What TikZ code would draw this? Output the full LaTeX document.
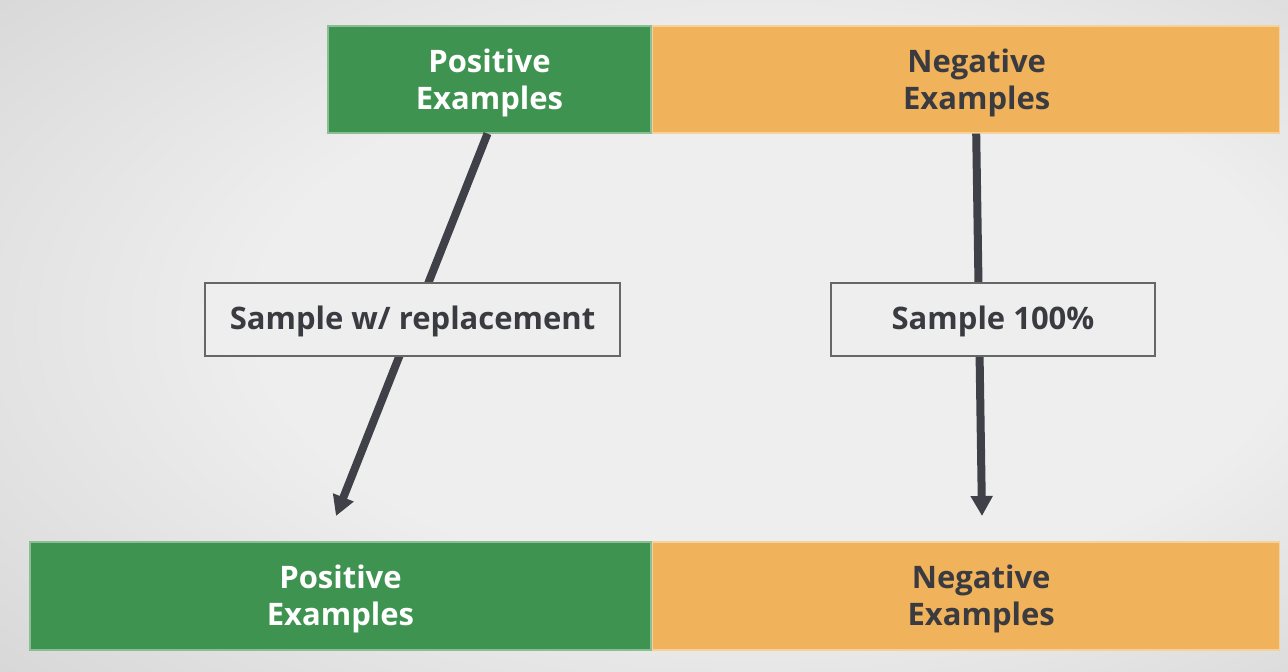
\documentclass[tikz,border=0pt]{standalone}
\usepackage{fontspec}
\setmainfont{Open Sans}
\usetikzlibrary{arrows.meta,positioning}

\definecolor{posgreen}{HTML}{3F9350}
\definecolor{negorange}{HTML}{F0B25A}
\definecolor{arrowgray}{HTML}{404148}
\definecolor{labelgray}{HTML}{3A3B40}
\definecolor{bgin}{HTML}{EEEEEE}
\definecolor{bgout}{HTML}{C2C2C2}

\pgfdeclareradialshading{bgshade}{\pgfpoint{8bp}{2bp}}{color(0bp)=(bgin); color(20bp)=(bgin); color(55bp)=(bgout)}

\tikzset{
    exfont/.style={align=center, font=\fontsize{15.5}{18.5}\selectfont\bfseries},
    exbox/.style={inner sep=0pt, exfont},
    posbox/.style={exbox, fill=posgreen, draw=posgreen!60!white, line width=0.6pt, text=white},
    negbox/.style={exbox, fill=negorange, draw=negorange!60!white, line width=0.6pt, text=labelgray},
    boxtext/.style={exfont, inner sep=0pt, yshift=-1.5pt},
    samplebox/.style={exbox, fill=bgin, draw=gray!80!black, line width=0.6pt, text=labelgray,
        minimum height=36.5pt, text height=13.6pt, text depth=3.5pt},
    samplearrow/.style={draw=arrowgray, line width=4pt, -{Triangle[width=10.5pt,length=10pt]}}
}

\begin{document}
\begin{tikzpicture}[x=0.5pt,y=-0.5pt]
    % background
    \shade[shading=bgshade] (0,0) rectangle (1288,672);
    \useasboundingbox (0,0) rectangle (1288,672);

    % top row
    \node[posbox, minimum width=161.5pt, minimum height=53.5pt,
        label={[boxtext, text=white]center:{Positive\\Examples}}] (pos1) at (489.5,79.5) {};
    \node[negbox, minimum width=313.5pt, minimum height=53.5pt, right=0pt of pos1,
        label={[boxtext, text=labelgray, xshift=5.5pt]center:{Negative\\Examples}}] (neg1) {};

    % bottom row
    \node[posbox, minimum width=310.5pt, minimum height=54pt,
        label={[boxtext, text=white]center:{Positive\\Examples}}] (pos2) at (340.5,596) {};
    \node[negbox, minimum width=313.5pt, minimum height=54pt, right=0pt of pos2,
        label={[boxtext, text=labelgray, xshift=7.75pt]center:{Negative\\Examples}}] (neg2) {};

    % arrow ends
    \coordinate (posend) at (336,516);
    \coordinate (negend) at (982,516);

    \draw[samplearrow] ([xshift=-1pt]pos1.south) -- (posend);
    \draw[samplearrow] ([xshift=5.25pt]neg1.south) -- (negend);

    % sampling labels
    \node[samplebox, minimum width=207.5pt] (possample) at (412.5,319.5) {Sample w/ replacement};
    \node[samplebox, minimum width=162pt] (negsample) at (993,319.5) {Sample 100\%};
\end{tikzpicture}
\end{document}
